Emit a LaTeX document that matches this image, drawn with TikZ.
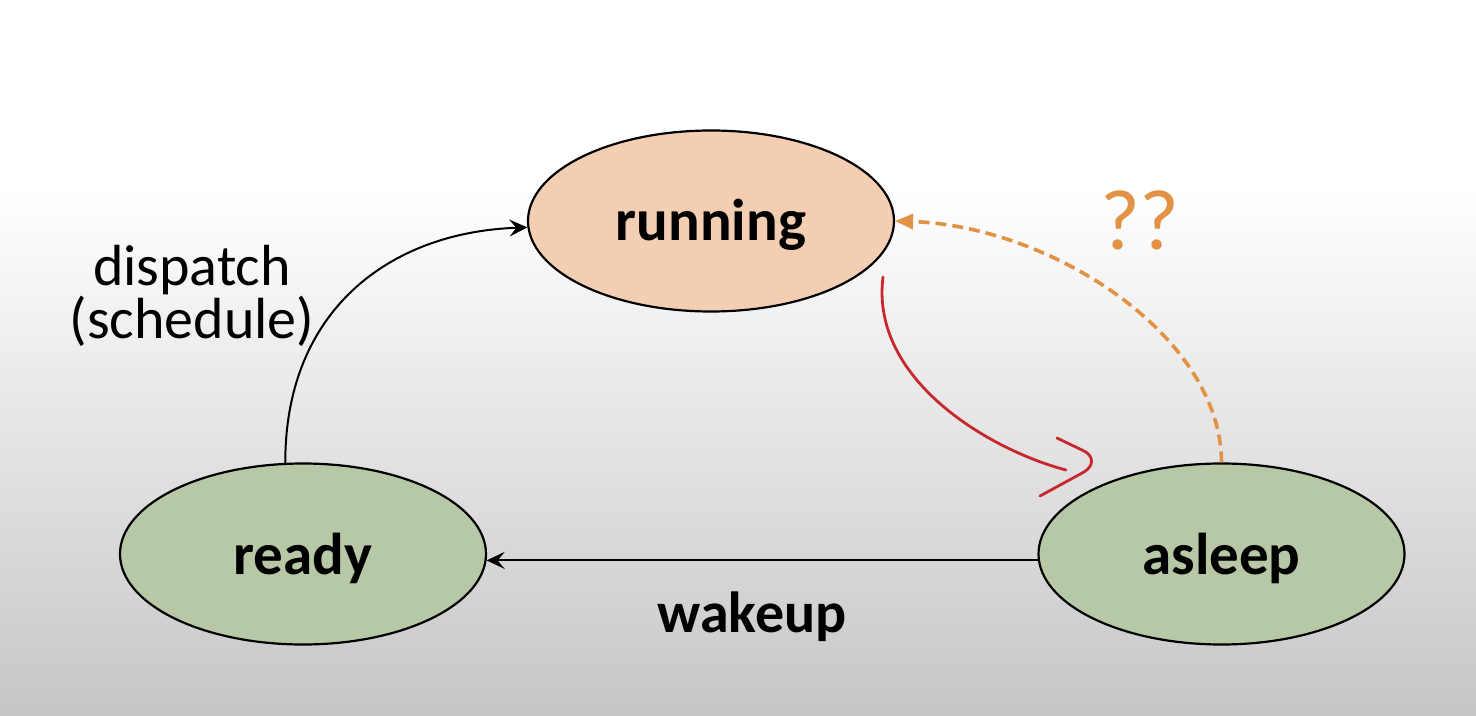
\documentclass[tikz,border=0pt]{standalone}
\usepackage{fontspec}
\setmainfont{Carlito}
\usetikzlibrary{arrows.meta,shapes.geometric}
\definecolor{peachfill}{RGB}{244,206,178}
\definecolor{sagefill}{RGB}{183,200,166}
\definecolor{qorange}{RGB}{226,146,68}
\definecolor{penred}{RGB}{200,40,45}
\definecolor{bggray}{RGB}{198,198,198}
\tikzset{
  statenode/.style={ellipse, draw=black, line width=1.1pt, inner sep=0pt,
    minimum width=183pt, minimum height=90.5pt,
    font=\bfseries\fontsize{29.5}{30}\selectfont, text height=25pt, text depth=5pt},
  edgelabel/.style={font=\fontsize{29}{25}\selectfont, align=center, inner sep=0pt},
  boldlabel/.style={font=\bfseries\fontsize{29}{30}\selectfont, inner sep=0pt},
  blackarrow/.style={draw=black, line width=1pt, -{Stealth[length=9pt,width=8.5pt,inset=3.5pt]}},
  orangearrow/.style={draw=qorange, line width=1.8pt, dash pattern=on 5.5pt off 3pt,
    -{Triangle[length=9pt,width=7.5pt]}},
  penstroke/.style={draw=penred, line width=1.4pt, line cap=round, line join=round}
}
\begin{document}
\begin{tikzpicture}[x=0.5pt,y=-0.5pt]
\useasboundingbox (0,0) rectangle (1476,716);
\fill[white] (0,0) rectangle (1476,716);
\shade[top color=white, bottom color=bggray] (0,190) rectangle (1476,716);

\node[statenode, fill=peachfill] (running) at (711,221) {running};
\node[statenode, fill=sagefill] (ready) at (303,554) {ready};
\node[statenode, fill=sagefill] (asleep) at (1221.5,554) {asleep};

% dispatch
\draw[blackarrow] (ready.101) .. controls (285,310) and (390,232) .. (running.182);
\node[edgelabel] (dispatchlabel) at (192,296) {dispatch\\(schedule)};

% wakeup
\draw[blackarrow] (asleep.182) -- (ready.358);
\node[boldlabel, anchor=base] (wakeuplabel) at (752,632) {wakeup};

% dashed ??
\draw[orangearrow] (asleep.north) .. controls (1221,335) and (1050,226) .. (running.east);
\node[anchor=base, inner sep=0pt, text=qorange, font=\fontsize{43}{45}\selectfont] (qq) at (1140,250) {??};

% red hand-drawn arrow
\coordinate (redstart) at (883,277);
\coordinate (redend) at (1066,470);
\draw[penstroke] (redstart) .. controls (870,380) and (990,450) .. (redend);
\coordinate (chevtop) at (1057,438);
\coordinate (chevbot) at (1040,496);
\draw[penstroke] (chevtop) -- (1084,451) .. controls (1094,456) and (1094,466) .. (1084,472) -- (chevbot);
\end{tikzpicture}
\end{document}
